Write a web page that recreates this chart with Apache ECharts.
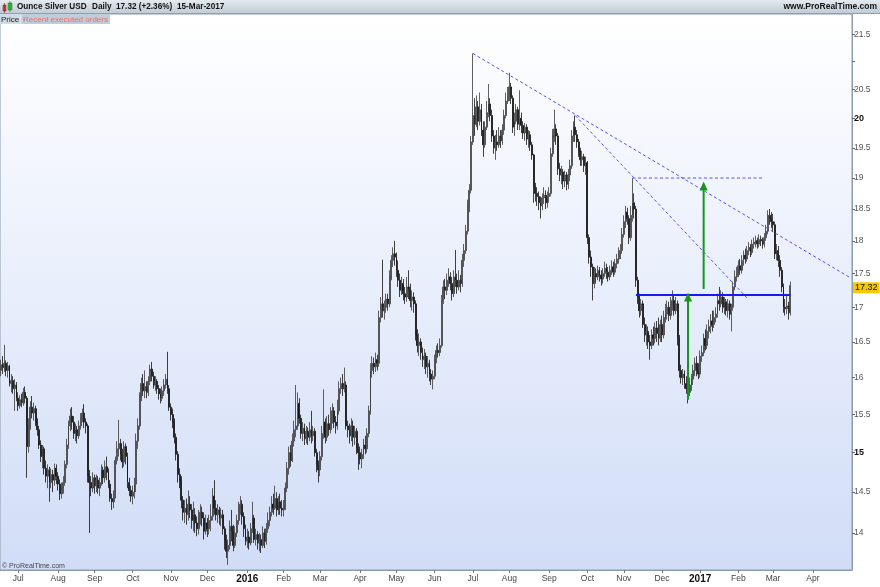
<!DOCTYPE html>
<html><head><meta charset="utf-8">
<script src="https://cdn.jsdelivr.net/npm/echarts@6/dist/echarts.min.js"></script>
<style>html,body{margin:0;padding:0;background:#fff}#c{width:880px;height:587px}</style>
</head><body><div id="c"></div>
<script>
// ---------- DATA ----------
const firstDay = '2015-06-17';
const lastAxisDay = '2017-05-03';
const monthNames = ['Jan','Feb','Mar','Apr','May','Jun','Jul','Aug','Sep','Oct','Nov','Dec'];
const priceTicks = [14,14.5,15,15.5,16,16.5,17,17.5,18,18.5,19,19.5,20,20.5,21,21.5];
const boldTicks = [15,20];
const hiddenTickLabels = [21];
const priceMin = 13.56, priceMax = 21.88;
const lastPrice = 17.32;

// daily candles [open, close, low, high]
const bars2015 = [
// Jun
[16.10,16.18,16.02,16.25],[16.18,16.14,16.05,16.30],[16.14,16.20,16.08,16.46],[16.20,16.10,16.02,16.24],[16.10,16.16,16.00,16.22],[16.16,15.92,15.88,16.18],[15.92,15.96,15.80,16.05],[15.96,15.85,15.78,16.02],[15.85,15.90,15.55,15.98],[15.90,15.72,15.68,15.94],
// Jul
[15.72,15.62,15.55,15.80],[15.62,15.70,15.58,15.76],[15.70,15.66,15.60,15.78],[15.66,15.80,15.62,15.86],[15.80,15.72,15.65,15.88],[15.72,15.08,14.68,15.75],[15.08,15.35,15.00,15.45],[15.35,15.60,15.30,15.68],[15.60,15.52,15.45,15.75],[15.52,15.58,15.42,15.66],[15.58,15.40,15.35,15.62],[15.40,15.30,15.22,15.45],[15.30,15.10,15.05,15.35],[15.10,14.95,14.88,15.16],[14.95,15.05,14.80,15.10],[15.05,14.80,14.72,15.08],[14.80,14.70,14.62,14.90],[14.70,14.78,14.55,14.85],[14.78,14.62,14.38,14.82],[14.62,14.72,14.55,14.80],[14.72,14.65,14.50,14.78],[14.65,14.80,14.58,14.86],[14.80,14.70,14.60,14.85],
// Aug
[14.70,14.60,14.52,14.75],[14.60,14.48,14.40,14.66],[14.48,14.55,14.42,14.62],[14.55,14.62,14.48,14.70],[14.62,14.85,14.58,14.90],[14.85,15.10,14.80,15.18],[15.10,15.35,15.05,15.42],[15.35,15.48,15.28,15.58],[15.48,15.40,15.30,15.60],[15.40,15.25,15.18,15.48],[15.25,15.30,15.15,15.38],[15.30,15.22,15.12,15.35],[15.22,15.35,15.18,15.42],[15.35,15.45,15.30,15.52],[15.45,15.52,15.40,15.58],[15.52,15.40,15.32,15.64],[15.40,15.35,15.25,15.45],[15.35,14.70,14.62,15.38],[14.70,14.62,14.00,14.78],[14.62,14.55,14.45,14.70],[14.55,14.68,14.50,14.75],
// Sep
[14.68,14.58,14.48,14.72],[14.58,14.65,14.50,14.72],[14.65,14.55,14.48,14.70],[14.55,14.62,14.45,14.68],[14.62,14.78,14.58,14.85],[14.78,14.68,14.60,14.82],[14.68,14.82,14.62,14.90],[14.82,14.75,14.65,14.95],[14.75,14.60,14.55,14.80],[14.60,14.42,14.38,14.65],[14.42,14.38,14.28,14.48],[14.38,14.45,14.30,14.52],[14.45,14.90,14.42,14.95],[14.90,15.05,14.85,15.15],[15.05,15.12,14.95,15.43],[15.12,14.98,14.90,15.18],[14.98,14.88,14.80,15.05],[14.88,15.08,14.82,15.15],[15.08,14.95,14.85,15.12],[14.95,14.62,14.55,15.00],[14.62,14.52,14.45,14.68],[14.52,14.45,14.38,14.58],
// Oct
[14.45,14.50,14.35,14.58],[14.50,14.60,14.42,14.68],[14.60,15.15,14.50,15.25],[15.15,15.35,15.05,15.45],[15.35,15.75,15.30,15.80],[15.75,15.92,15.68,16.00],[15.92,15.82,15.75,16.05],[15.82,15.88,15.72,16.10],[15.88,15.80,15.72,15.95],[15.80,15.95,15.75,16.02],[15.95,16.12,15.90,16.18],[16.12,16.02,15.95,16.22],[16.02,15.90,15.85,16.08],[15.90,15.95,15.82,16.02],[15.95,15.85,15.78,15.98],[15.85,15.78,15.70,15.90],[15.78,15.72,15.65,15.85],[15.72,15.82,15.68,15.88],[15.82,15.90,15.75,15.98],[15.90,15.98,15.85,16.05],[15.98,15.85,15.78,16.36],[15.85,15.60,15.55,15.90],
// Nov
[15.60,15.50,15.42,15.65],[15.50,15.40,15.32,15.58],[15.40,15.20,15.12,15.45],[15.20,14.98,14.90,15.25],[14.98,14.72,14.62,15.02],[14.72,14.65,14.55,14.80],[14.65,14.40,14.30,14.70],[14.40,14.25,14.15,14.45],[14.25,14.30,14.12,14.40],[14.30,14.22,14.10,14.42],[14.22,14.35,14.15,14.52],[14.35,14.28,14.18,14.45],[14.28,14.15,14.05,14.35],[14.15,14.22,14.02,14.38],[14.22,14.12,14.00,14.30],[14.12,14.05,13.96,14.20],[14.05,14.20,13.98,14.28],[14.20,14.25,14.10,14.35],[14.25,14.18,14.08,14.32],[14.18,14.02,13.92,14.25],[14.02,14.12,13.98,14.22],
// Dec
[14.12,14.05,13.95,14.18],[14.05,14.15,13.98,14.22],[14.15,14.20,14.02,14.35],[14.20,14.45,14.15,14.55],[14.45,14.30,14.22,14.65],[14.30,14.22,14.15,14.40],[14.22,14.28,14.12,14.35],[14.28,14.18,14.10,14.32],[14.18,14.22,14.08,14.30],[14.22,14.05,13.98,14.28],[14.05,13.90,13.80,14.08],[13.90,13.78,13.70,13.98],[13.78,13.85,13.62,13.92],[13.85,14.08,13.80,14.15],[14.08,14.02,13.90,14.28],[14.02,13.85,13.78,14.10],[13.85,14.00,13.82,14.08],[14.00,14.15,13.95,14.22],[14.15,14.30,14.10,14.38],[14.30,14.35,14.22,14.45],[14.35,14.20,14.10,14.40],[14.20,14.05,13.95,14.25],[14.05,13.90,13.85,14.10]
];
const bars2016 = [
// Jan
[13.90,13.95,13.82,14.05],[13.95,13.88,13.80,14.02],[13.88,14.05,13.85,14.12],[14.05,14.18,14.00,14.38],[14.18,13.92,13.88,14.22],[13.92,13.98,13.85,14.05],[13.98,13.88,13.80,14.02],[13.88,13.92,13.78,14.00],[13.92,13.85,13.76,13.98],[13.85,14.00,13.82,14.08],[14.00,13.90,13.82,14.05],[13.90,14.05,13.86,14.12],[14.05,14.15,14.00,14.25],[14.15,14.25,14.08,14.32],[14.25,14.35,14.20,14.45],[14.35,14.30,14.22,14.48],[14.30,14.42,14.28,14.58],[14.42,14.28,14.20,14.50],[14.28,14.38,14.22,14.45],[14.38,14.30,14.22,14.48],[14.30,14.28,14.20,14.40],
// Feb
[14.28,14.32,14.20,14.40],[14.32,14.55,14.28,14.62],[14.55,14.80,14.50,14.88],[14.80,15.00,14.72,15.08],[15.00,14.90,14.82,15.10],[14.90,15.15,14.88,15.25],[15.15,15.30,15.08,15.42],[15.30,15.35,15.20,15.90],[15.35,15.65,15.30,15.80],[15.65,15.45,15.38,15.72],[15.45,15.25,15.18,15.50],[15.25,15.32,15.15,15.40],[15.32,15.18,15.10,15.38],[15.18,15.28,15.12,15.35],[15.28,15.20,15.10,15.33],[15.20,15.30,15.15,15.40],[15.30,15.22,15.12,15.55],[15.22,15.28,15.15,15.35],[15.28,15.00,14.95,15.32],[15.00,14.85,14.75,15.05],[14.85,14.78,14.62,14.90],
// Mar
[14.78,14.95,14.70,15.02],[14.95,15.25,14.90,15.35],[15.25,15.40,15.18,15.84],[15.40,15.20,15.12,15.45],[15.20,15.38,15.15,15.48],[15.38,15.30,15.22,15.50],[15.30,15.45,15.25,15.60],[15.45,15.55,15.38,15.65],[15.55,15.40,15.32,15.60],[15.40,15.35,15.25,15.48],[15.35,15.55,15.30,15.70],[15.55,15.85,15.50,15.95],[15.85,15.92,15.78,16.00],[15.92,15.85,15.75,16.05],[15.85,15.90,15.80,16.14],[15.90,15.35,15.30,15.95],[15.35,15.30,15.20,15.42],[15.30,15.22,15.12,15.38],[15.22,15.35,15.15,15.45],[15.35,15.20,15.08,15.42],[15.20,15.28,15.10,15.35],[15.28,15.05,14.98,15.32],[15.05,15.00,14.78,15.12],
// Apr
[15.00,14.92,14.85,15.08],[14.92,14.98,14.80,15.05],[14.98,15.10,14.92,15.18],[15.10,15.05,14.98,15.22],[15.05,15.25,15.00,15.32],[15.25,15.55,15.20,15.62],[15.55,16.10,15.50,16.20],[16.10,16.20,16.00,16.30],[16.20,16.15,16.05,16.28],[16.15,16.25,16.08,16.35],[16.25,16.20,16.10,16.32],[16.20,16.85,16.15,16.95],[16.85,17.05,16.78,17.15],[17.05,16.95,16.85,17.71],[16.95,17.00,16.82,17.10],[17.00,17.12,16.92,17.20],[17.12,17.05,16.95,17.20],[17.05,17.45,17.00,17.55],[17.45,17.70,17.40,17.78],[17.70,17.80,17.60,17.90],[17.80,17.75,17.62,18.00],
// May
[17.75,17.55,17.45,17.82],[17.55,17.40,17.30,17.70],[17.40,17.25,17.15,17.50],[17.25,17.35,17.18,17.45],[17.35,17.20,17.10,17.42],[17.20,17.15,17.05,17.30],[17.15,17.30,17.08,17.45],[17.30,17.25,17.12,17.55],[17.25,17.10,17.00,17.35],[17.10,17.15,16.95,17.25],[17.15,17.05,16.92,17.22],[17.05,16.60,16.52,17.10],[16.60,16.45,16.35,16.68],[16.45,16.50,16.30,16.62],[16.50,16.35,16.25,16.55],[16.35,16.25,16.15,16.42],[16.25,16.30,16.12,16.40],[16.30,16.15,16.05,16.35],[16.15,16.20,16.00,16.30],[16.20,16.05,15.95,16.25],[16.05,15.98,15.90,16.12],[15.98,16.02,15.84,16.10],
// Jun
[16.02,16.25,15.98,16.32],[16.25,16.38,16.20,16.45],[16.38,16.35,16.28,16.48],[16.35,16.45,16.30,16.55],[16.45,17.10,16.42,17.18],[17.10,17.30,17.05,17.40],[17.30,17.25,17.12,17.42],[17.25,17.40,17.18,17.50],[17.40,17.45,17.30,17.58],[17.45,17.35,17.25,17.52],[17.35,17.20,17.10,17.45],[17.20,17.45,17.15,17.55],[17.45,17.40,17.30,17.86],[17.40,17.30,17.20,17.50],[17.30,17.40,17.25,17.55],[17.40,17.35,17.22,17.48],[17.35,17.70,17.30,17.80],[17.70,17.85,17.60,17.95],[17.85,18.15,17.80,18.25],[18.15,18.55,18.10,18.65],[18.55,18.80,18.45,18.90],[18.80,19.60,18.75,19.70],
// Jul
[19.60,20.05,19.55,21.15],[20.05,19.90,19.70,20.35],[19.90,20.20,19.85,20.40],[20.20,19.95,19.80,20.30],[19.95,20.15,19.88,20.45],[20.15,19.80,19.70,20.25],[19.80,19.55,19.35,19.95],[19.55,19.85,19.50,19.95],[19.85,20.10,19.80,20.30],[20.10,20.25,20.02,20.60],[20.25,20.05,19.95,20.35],[20.05,19.70,19.60,20.15],[19.70,19.50,19.40,19.80],[19.50,19.60,19.30,19.72],[19.60,19.55,19.45,19.80],[19.55,19.70,19.50,19.85],[19.70,19.62,19.50,19.80],[19.62,19.80,19.55,19.90],[19.80,20.05,19.72,20.15],[20.05,20.30,20.00,20.45],[20.30,20.40,20.25,20.55],
// Aug
[20.40,20.55,20.30,20.80],[20.55,20.35,20.25,20.62],[20.35,19.85,19.75,20.40],[19.85,19.95,19.70,20.10],[19.95,20.15,19.90,20.25],[20.15,19.90,19.80,20.20],[19.90,20.00,19.80,20.49],[20.00,19.88,19.75,20.10],[19.88,19.75,19.65,19.95],[19.75,19.85,19.62,19.92],[19.85,19.65,19.55,19.90],[19.65,19.72,19.50,19.80],[19.72,19.55,19.45,19.78],[19.55,19.38,19.30,19.60],[19.38,18.85,18.60,19.40],[18.85,18.75,18.62,18.92],[18.75,18.70,18.55,18.85],[18.70,18.60,18.48,18.78],[18.60,18.55,18.35,18.70],[18.55,18.68,18.48,18.75],[18.68,18.72,18.58,18.85],[18.72,18.60,18.50,18.80],[18.60,18.70,18.52,18.78],
// Sep
[18.70,18.75,18.60,18.85],[18.75,19.40,18.70,19.50],[19.40,19.70,19.35,19.82],[19.70,19.82,19.60,20.15],[19.82,19.70,19.55,19.90],[19.70,19.15,19.05,19.75],[19.15,19.05,18.95,19.25],[19.05,19.10,18.90,19.20],[19.10,18.95,18.82,19.15],[18.95,19.05,18.85,19.12],[19.05,18.90,18.80,19.10],[18.90,19.05,18.82,19.15],[19.05,19.20,18.95,19.30],[19.20,19.70,19.15,19.80],[19.70,19.85,19.60,19.95],[19.85,19.72,19.60,20.05],[19.72,19.60,19.50,19.80],[19.60,19.45,19.35,19.65],[19.45,19.30,19.20,19.50],[19.30,19.35,19.20,19.45],[19.35,19.20,19.10,19.40],[19.20,19.25,19.05,19.35],
// Oct
[19.25,18.05,17.95,19.28],[18.05,17.75,17.65,18.10],[17.75,17.60,17.45,17.85],[17.60,17.35,17.10,17.65],[17.35,17.50,17.28,17.60],[17.50,17.45,17.35,17.58],[17.45,17.55,17.40,17.62],[17.55,17.48,17.38,17.60],[17.48,17.42,17.32,17.55],[17.42,17.50,17.35,17.58],[17.50,17.58,17.45,17.68],[17.58,17.52,17.42,17.65],[17.52,17.45,17.38,17.60],[17.45,17.55,17.40,17.62],[17.55,17.60,17.48,17.70],[17.60,17.52,17.45,17.68],[17.52,17.65,17.48,17.72],[17.65,17.72,17.58,17.80],[17.72,17.80,17.65,17.90],[17.80,17.85,17.72,17.95],[17.85,18.10,17.80,18.20],
// Nov
[18.10,18.30,18.05,18.40],[18.30,18.45,18.20,18.55],[18.45,18.35,18.25,18.52],[18.35,18.05,17.95,18.40],[18.05,18.40,18.00,18.55],[18.40,18.60,18.30,19.00],[18.60,18.50,18.35,18.75],[18.50,17.40,17.30,18.55],[17.40,17.15,17.05,17.45],[17.15,16.95,16.85,17.20],[16.95,17.05,16.88,17.12],[17.05,16.75,16.70,17.10],[16.75,16.60,16.50,16.85],[16.60,16.65,16.45,16.75],[16.65,16.50,16.40,16.72],[16.50,16.45,16.25,16.60],[16.45,16.60,16.40,16.68],[16.60,16.55,16.45,16.72],[16.55,16.70,16.48,16.78],[16.70,16.62,16.50,16.80],[16.62,16.55,16.45,16.85],[16.55,16.75,16.50,16.82],
// Dec
[16.75,16.60,16.50,16.88],[16.60,16.85,16.55,16.95],[16.85,16.90,16.78,17.05],[16.90,17.00,16.82,17.10],[17.00,16.88,16.80,17.08],[16.88,17.05,16.82,17.15],[17.05,17.10,16.95,17.25],[17.10,16.95,16.88,17.18],[16.95,17.05,16.90,17.15],[17.05,16.55,16.45,17.10],[16.55,16.10,16.00,16.60],[16.10,16.00,15.92,16.18],[16.00,16.05,15.90,16.12],[16.05,15.92,15.85,16.10],[15.92,15.85,15.78,16.02],[15.85,15.80,15.65,15.95],[15.80,15.90,15.75,16.00],[15.90,15.98,15.82,16.05],[15.98,16.10,15.90,16.18],[16.10,16.20,16.02,16.28],[16.20,16.10,16.02,16.30],[16.10,16.05,15.98,16.20]
];
const bars2017 = [
// Jan
[16.05,16.30,16.00,16.38],[16.30,16.35,16.22,16.45],[16.35,16.55,16.30,16.62],[16.55,16.45,16.38,16.68],[16.45,16.65,16.40,16.75],[16.65,16.72,16.55,16.82],[16.72,16.80,16.62,16.90],[16.80,16.75,16.65,16.95],[16.75,16.85,16.70,16.95],[16.85,16.90,16.78,17.00],[16.90,17.10,16.85,17.20],[17.10,17.05,16.95,17.30],[17.05,17.15,17.00,17.25],[17.15,17.00,16.92,17.22],[17.00,17.08,16.90,17.15],[17.08,16.95,16.88,17.12],[16.95,17.05,16.85,17.12],[17.05,16.90,16.82,17.10],[16.90,17.00,16.65,17.05],[17.00,17.30,16.95,17.38],[17.30,17.45,17.25,17.55],[17.45,17.50,17.38,17.60],
// Feb
[17.50,17.62,17.45,17.70],[17.62,17.55,17.48,17.72],[17.55,17.70,17.50,17.78],[17.70,17.78,17.62,17.85],[17.78,17.72,17.65,17.88],[17.72,17.85,17.68,17.92],[17.85,17.90,17.78,17.98],[17.90,17.82,17.75,17.95],[17.82,17.95,17.78,18.02],[17.95,17.98,17.88,18.05],[17.98,18.00,17.90,18.08],[18.00,17.95,17.88,18.05],[17.95,18.02,17.90,18.10],[18.02,18.00,17.92,18.08],[18.00,17.95,17.88,18.05],[17.95,18.05,17.90,18.12],[18.05,18.15,18.00,18.25],[18.15,18.40,18.10,18.48],[18.40,18.35,18.25,18.50],[18.35,18.30,18.20,18.45],
// Mar
[18.30,18.25,18.15,18.42],[18.25,17.80,17.72,18.30],[17.80,17.85,17.70,17.95],[17.85,17.70,17.60,17.92],[17.70,17.55,17.45,17.78],[17.55,17.30,17.22,17.60],[17.30,17.00,16.92,17.35],[17.00,16.98,16.88,17.12],[16.98,17.02,16.90,17.18],[17.02,16.92,16.82,17.08],[16.92,17.32,16.88,17.38]
];

// drawn annotations: [date, price]
const trendLine1 = [['2016-07-01', 21.15], ['2017-05-03', 17.43]];
const trendLine2 = [['2016-09-22', 20.05], ['2017-02-09', 17.11]];
const targetLine = [['2016-11-08', 19.0], ['2017-02-22', 19.0]];
const necklineLine = [['2016-11-10', 17.18], ['2017-03-15', 17.18]];
const arrowLow = [['2016-12-22', 15.70], ['2016-12-22', 17.15]];
const arrowHigh = [['2017-01-04', 17.27], ['2017-01-04', 18.87]];

// ---------- BUILD ----------
function weekdays(a, b) {
  const out = [];
  const d = new Date(a + 'T00:00:00Z'), e = new Date(b + 'T00:00:00Z');
  while (d <= e) {
    const w = d.getUTCDay();
    if (w !== 0 && w !== 6) out.push(d.toISOString().slice(0, 10));
    d.setUTCDate(d.getUTCDate() + 1);
  }
  return out;
}
const dates = weekdays(firstDay, lastAxisDay);
const bars = bars2015.concat(bars2016, bars2017);
const L = Math.log;
const candleData = bars.map(b => b.map(L));
const FONT = '"Liberation Sans", Arial, sans-serif';

function isMonthStart(i) {
  return i > 0 && i < dates.length - 6 && dates[i].slice(5, 7) !== dates[i - 1].slice(5, 7);
}
function lineSeries(points, style, arrow) {
  return {
    type: 'line', silent: true, z: 5,
    data: points.map((p, k) => ({
      value: [p[0], L(p[1])],
      symbol: (arrow && k === points.length - 1) ? 'triangle' : 'none',
      symbolSize: [8, 9],
      itemStyle: { color: style.color, borderWidth: 0 }
    })),
    showSymbol: true, showAllSymbol: true,
    lineStyle: style,
    animation: false
  };
}

const headerText = (x, text, extra) => Object.assign({ type: 'text', z: 102, x: x, y: 7,
  style: Object.assign({ text: text, fontSize: 8.2, fontWeight: 'bold', fontFamily: FONT, fill: '#111', verticalAlign: 'middle' }, extra || {}) });

const chart = echarts.init(document.getElementById('c'), null, { renderer: 'canvas' });
chart.setOption({
  animation: false,
  backgroundColor: '#ffffff',
  textStyle: { fontFamily: FONT },
  grid: {
    left: 0, right: 28, top: 14, bottom: 17, show: true,
    backgroundColor: { type: 'linear', x: 0, y: 0, x2: 0, y2: 1,
      colorStops: [{ offset: 0, color: '#ffffff' }, { offset: 1, color: '#d1ddf7' }] },
    borderColor: '#8d9cab', borderWidth: 1
  },
  xAxis: {
    type: 'category', data: dates, boundaryGap: true,
    axisLine: { show: true, lineStyle: { color: '#8d9cab' } },
    axisTick: { show: true, alignWithLabel: true, interval: (i) => isMonthStart(i), length: 3, lineStyle: { color: '#777' } },
    axisLabel: {
      interval: (i) => isMonthStart(i), margin: 4, fontSize: 8.5, color: '#444', fontFamily: FONT,
      formatter: (v) => { const m = +v.slice(5, 7); return m === 1 ? '{y|' + v.slice(0, 4) + '}' : monthNames[m - 1]; },
      rich: { y: { fontWeight: 'bold', fontSize: 10, color: '#111', fontFamily: FONT } }
    },
    splitLine: { show: false }
  },
  yAxis: {
    type: 'value', position: 'right', scale: true,
    min: L(priceMin), max: L(priceMax),
    axisLine: { show: true, lineStyle: { color: '#8d9cab' } },
    axisTick: { show: true, customValues: priceTicks.map(L), length: 3, lineStyle: { color: '#666' } },
    axisLabel: {
      customValues: priceTicks.map(L), margin: 2, fontSize: 8.5, color: '#555', fontFamily: FONT,
      formatter: (v) => {
        const p = Math.round(Math.exp(v) * 2) / 2;
        if (hiddenTickLabels.indexOf(p) >= 0) return '';
        return boldTicks.indexOf(p) >= 0 ? '{b|' + p + '}' : String(p);
      },
      rich: { b: { fontWeight: 'bold', fontSize: 9, color: '#111', fontFamily: FONT } }
    },
    splitLine: { show: false }
  },
  series: [
    {
      type: 'candlestick', data: candleData, barWidth: 1.4, z: 3,
      itemStyle: { color: '#a2a2a2', color0: '#111111', borderColor: '#383838', borderColor0: '#111111', borderWidth: 0.8 },
      markLine: {
        silent: true, symbol: 'none', animation: false,
        lineStyle: { color: 'rgba(0,0,0,0)', width: 0, opacity: 1 },
        data: [{ yAxis: L(lastPrice) }],
        label: { show: true, position: 'end', distance: 1, formatter: lastPrice.toFixed(2), opacity: 1,
          backgroundColor: '#f6c800', color: '#111', fontSize: 9, padding: [1, 2, 1, 2], fontFamily: FONT }
      }
    },
    lineSeries(trendLine1, { color: '#5252fa', width: 1, type: [3, 2.5] }),
    lineSeries(trendLine2, { color: '#5252fa', width: 1, type: [3, 2.5] }),
    lineSeries(targetLine, { color: '#5252fa', width: 1, type: [3, 2.5] }),
    lineSeries(necklineLine, { color: '#1a1af0', width: 2, type: 'solid' }),
    lineSeries(arrowLow, { color: '#16961a', width: 2, type: 'solid' }, true),
    lineSeries(arrowHigh, { color: '#16961a', width: 2, type: 'solid' }, true)
  ],
  graphic: [
    { type: 'rect', z: 100, shape: { x: 0, y: 0, width: 880, height: 14 },
      style: { fill: { type: 'linear', x: 0, y: 0, x2: 0, y2: 1, colorStops: [{ offset: 0, color: '#e4eaef' }, { offset: 1, color: '#bdcad5' }] } } },
    { type: 'line', z: 101, shape: { x1: 0, y1: 13.5, x2: 880, y2: 13.5 }, style: { stroke: '#8e9fae', lineWidth: 1 } },
    { type: 'rect', z: 101, shape: { x: 3, y: 5, width: 3, height: 6 }, style: { fill: '#e23b3b', stroke: '#8a2020', lineWidth: 0.5 } },
    { type: 'line', z: 101, shape: { x1: 4.5, y1: 3, x2: 4.5, y2: 13 }, style: { stroke: '#8a2020', lineWidth: 0.6 } },
    { type: 'rect', z: 101, shape: { x: 8, y: 3, width: 4, height: 7 }, style: { fill: '#3cbf3c', stroke: '#207020', lineWidth: 0.5 } },
    { type: 'line', z: 101, shape: { x1: 10, y1: 1, x2: 10, y2: 12 }, style: { stroke: '#207020', lineWidth: 0.6 } },
    headerText(17, 'Ounce Silver USD'),
    headerText(92, 'Daily'),
    headerText(116, '17.32 (+2.36%)'),
    headerText(177, '15-Mar-2017'),
    headerText(877, 'www.ProRealTime.com', { align: 'right', fontSize: 8.5 }),
    { type: 'rect', z: 100, shape: { x: 0, y: 14, width: 21, height: 10 }, style: { fill: '#cfdbe5' } },
    { type: 'rect', z: 100, shape: { x: 21, y: 14, width: 89, height: 10 }, style: { fill: '#bfcdd9' } },
    { type: 'line', z: 101, shape: { x1: 21, y1: 14, x2: 21, y2: 24 }, style: { stroke: '#e8eef3', lineWidth: 1 } },
    { type: 'text', z: 102, x: 1, y: 19.5, style: { text: 'Price', fontSize: 8, fontFamily: FONT, fill: '#222', verticalAlign: 'middle' } },
    { type: 'text', z: 102, x: 23, y: 19.5, style: { text: 'Recent executed orders', fontSize: 8, fontFamily: FONT, fill: '#f06a6a', verticalAlign: 'middle' } },
    { type: 'text', z: 102, x: 2, y: 566, style: { text: '\u00A9 ProRealTime.com', fontSize: 7, fontFamily: FONT, fill: '#444', verticalAlign: 'middle' } }
  ]
});
</script>
</body></html>
